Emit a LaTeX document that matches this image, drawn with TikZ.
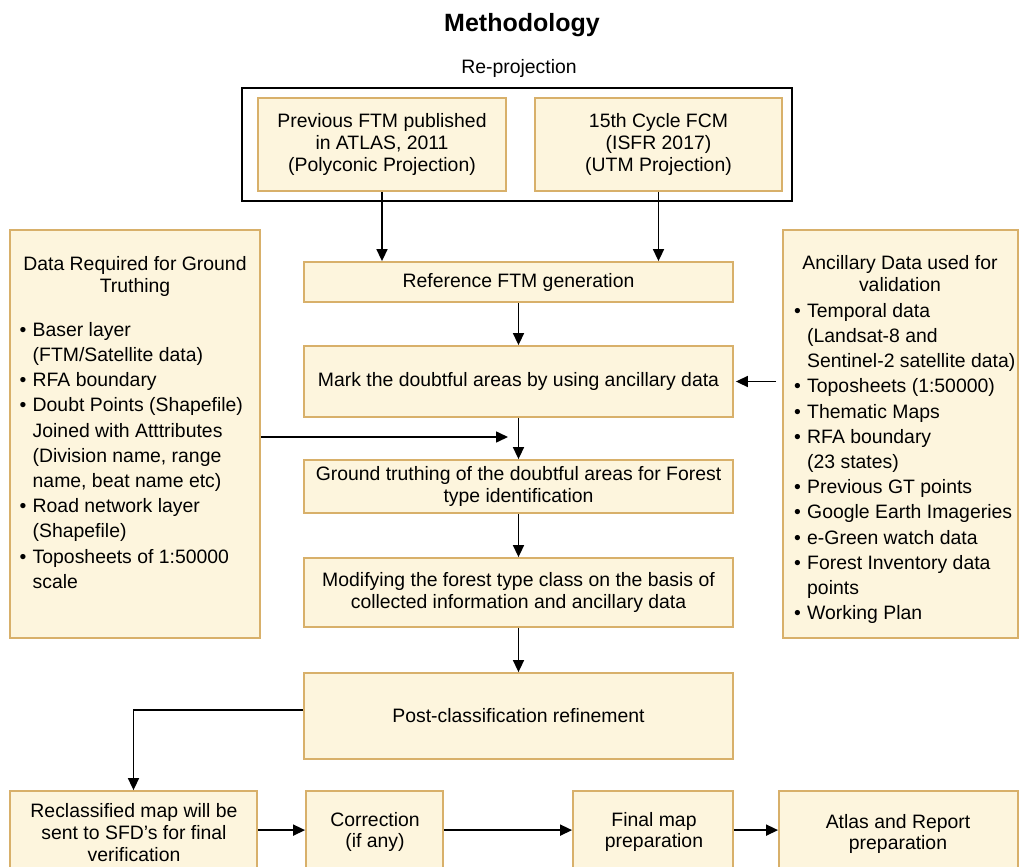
\documentclass[tikz,border=0pt]{standalone}
\usepackage{fontspec}
\setmainfont{Liberation Sans}
\usetikzlibrary{arrows.meta,calc}
\definecolor{boxfill}{RGB}{253,245,221}
\definecolor{boxline}{RGB}{216,176,106}
\newcommand{\myb}{\makebox[13pt][l]{\textbullet}}
\newcommand{\myi}{\hspace*{13pt}}
\begin{document}
\begin{tikzpicture}[x=1pt,y=-1pt,
  every node/.style={font=\fontsize{19.4}{22}\selectfont},
  box/.style={draw=boxline, fill=boxfill, line width=1.8pt, inner sep=0pt, align=center},
  listtxt/.style={anchor=north west, align=left, inner sep=0pt, font=\fontsize{19.4}{25.2}\selectfont},
  bottxt/.style={align=center, inner sep=0pt, font=\fontsize{19.4}{21.7}\selectfont},
  arr/.style={line width=1.6pt, -{Triangle[length=12pt,width=11pt]}}
  ]
\useasboundingbox (0,0) rectangle (1020,867);
\clip (0,0) rectangle (1020,867);

% title
\node[font=\fontsize{25}{30}\selectfont\bfseries] (title) at (522,25) {Methodology};
\node (reproj) at (519,68) {Re-projection};
\node[draw=black, line width=2pt, minimum width=550pt, minimum height=113pt, inner sep=0pt] (outer) at (517,144.5) {};

% top boxes
\node[box, minimum width=248pt, minimum height=93pt] (prev) at (382,144.5) {Previous FTM published\\in ATLAS, 2011\\(Polyconic Projection)};
\node[box, minimum width=247pt, minimum height=93pt] (cyc) at (658.5,144.5) {15th Cycle FCM\\(ISFR 2017)\\(UTM Projection)};

% central column
\node[box, minimum width=429pt, minimum height=40pt] (ref) at (518.5,282) {Reference FTM generation};
\node[box, minimum width=429pt, minimum height=71pt] (mark) at (518.5,381.5) {Mark the doubtful areas by using ancillary data};
\node[box, minimum width=429pt, minimum height=53pt] (gt) at (518.5,486.5) {Ground truthing of the doubtful areas for Forest\\type identification};
\node[box, minimum width=429pt, minimum height=69pt] (mod) at (518.5,592.5) {Modifying the forest type class on the basis of\\collected information and ancillary data};
\node[box, minimum width=429pt, minimum height=86pt] (post) at (518.5,716) {Post-classification refinement};

% side boxes
\node[box, minimum width=250pt, minimum height=408pt] (lbox) at (135,434) {};
\node[align=center, inner sep=0pt] (ltitle) at (135,276) {Data Required for Ground\\Truthing};
\node[listtxt] (llist) at (19.5,318.4) {\strut\myb Baser layer\\
\myi(FTM/Satellite data)\\
\myb RFA boundary\\
\myb Doubt Points (Shapefile)\\
\myi Joined with Atttributes\\
\myi(Division name, range\\
\myi name, beat name etc)\\
\myb Road network layer\\
\myi(Shapefile)\\
\myb Toposheets of 1:50000\\
\myi scale};

\node[box, minimum width=235pt, minimum height=408pt] (rbox) at (900.5,434) {};
\node[align=center, inner sep=0pt] (rtitle) at (900,274) {Ancillary Data used for\\validation};
\node[listtxt] (rlist) at (794,299.4) {\strut\myb Temporal data\\
\myi(Landsat-8 and\\
\myi Sentinel-2 satellite data)\\
\myb Toposheets (1:50000)\\
\myb Thematic Maps\\
\myb RFA boundary\\
\myi(23 states)\\
\myb Previous GT points\\
\myb Google Earth Imageries\\
\myb e-Green watch data\\
\myb Forest Inventory data\\
\myi points\\
\myb Working Plan};

% bottom row
\node[box, minimum width=247pt, minimum height=89pt] (recl) at (133.5,835.5) {};
\node[box, minimum width=137pt, minimum height=89pt] (corr) at (374.5,835.5) {};
\node[box, minimum width=160pt, minimum height=89pt] (final) at (653,835.5) {};
\node[box, minimum width=239pt, minimum height=89pt] (atlas) at (898.5,835.5) {};
\node[bottxt] (recltxt) at (134,832.5) {Reclassified map will be\\sent to SFD's for final\\verification};
\node[bottxt] (corrtxt) at (375,832) {Correction\\(if any)};
\node[bottxt] (finaltxt) at (654,832) {Final map\\preparation};
\node[bottxt] (atlastxt) at (898,834) {Atlas and Report\\preparation};

% connectors
\draw[arr] (prev.south) -- (prev.south |- ref.north);
\draw[arr] (cyc.south) -- (cyc.south |- ref.north);
\draw[arr] (ref.south) -- (mark.north);
\draw[arr] (mark.south) -- (gt.north);
\draw[arr] (gt.south) -- (mod.north);
\draw[arr] (mod.south) -- (post.north);
\draw[arr, shorten <=6pt, shorten >=2pt] (rbox.west |- mark.east) -- (mark.east);
\coordinate (gtin) at (508,437);
\draw[arr] (lbox.east |- gtin) -- (gtin);
\draw[arr] ($(post.west)+(0,-6)$) -| (recl.north);
\draw[arr] ($(recl.north east)+(0,40)$) -- ($(corr.north west)+(0,40)$);
\draw[arr] ($(corr.north east)+(0,40)$) -- ($(final.north west)+(0,40)$);
\draw[arr] ($(final.north east)+(0,40)$) -- ($(atlas.north west)+(0,40)$);
\end{tikzpicture}
\end{document}
